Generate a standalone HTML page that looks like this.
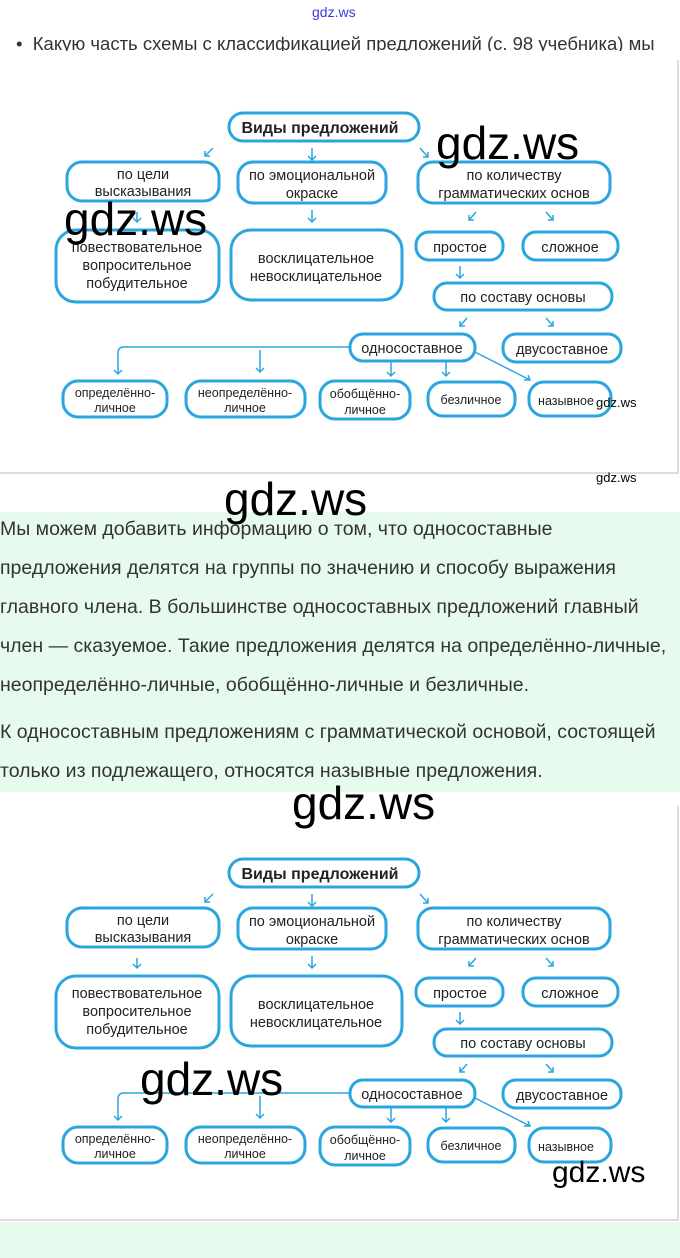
<!DOCTYPE html>
<html><head><meta charset="utf-8"><style>
html,body{margin:0;padding:0;background:#fff;}
body{width:680px;height:1258px;position:relative;overflow:hidden;font-family:"Liberation Sans","DejaVu Sans",sans-serif;}
.wm{position:absolute;font-family:"Liberation Sans","DejaVu Sans",sans-serif;color:#000;line-height:1;}
.txt{position:absolute;left:0;font-size:19.5px;color:#333;white-space:nowrap;}
</style></head><body>
<div style="position:absolute;left:312px;top:4px;font-size:14px;color:#3a3ad8;">gdz.ws</div>
<div style="position:absolute;left:0;top:30px;width:680px;height:21px;overflow:hidden;">
<div style="position:absolute;left:16px;top:3px;font-size:18.5px;color:#333;white-space:nowrap;">•&nbsp; Какую часть схемы с классификацией предложений (с. 98 учебника) мы</div></div>
<div style="position:absolute;left:0;top:60px;width:677px;height:412px;border-right:2px solid #ddd;border-bottom:2px solid #ddd;"></div>
<div style="position:absolute;left:0;top:512px;width:680px;height:280px;background:#e6fbee;"></div>
<div style="position:absolute;left:0;top:806px;width:677px;height:413px;border-right:2px solid #ddd;border-bottom:2px solid #ddd;"></div>
<div style="position:absolute;left:0;top:1222px;width:680px;height:36px;background:#e6fbee;"></div>

<div class="txt" style="top:518px;">Мы можем добавить информацию о том, что односоставные</div>
<div class="txt" style="top:557px;">предложения делятся на группы по значению и способу выражения</div>
<div class="txt" style="top:596px;">главного члена. В большинстве односоставных предложений главный</div>
<div class="txt" style="top:635px;">член — сказуемое. Такие предложения делятся на определённо-личные,</div>
<div class="txt" style="top:674px;">неопределённо-личные, обобщённо-личные и безличные.</div>
<div class="txt" style="top:721px;">К односоставным предложениям с грамматической основой, состоящей</div>
<div class="txt" style="top:760px;">только из подлежащего, относятся назывные предложения.</div>

<svg width="680" height="1258" style="position:absolute;left:0;top:0;" xmlns="http://www.w3.org/2000/svg">
<defs>
<g id="d" font-family="Liberation Sans, DejaVu Sans, sans-serif" font-size="14.5" fill="#222" text-anchor="middle">
<g fill="none" stroke="#2aa6de" stroke-width="3">
<rect x="229" y="113" width="190" height="28" rx="14"/>
<rect x="67" y="162" width="152" height="39" rx="15"/>
<rect x="238" y="162" width="148" height="41" rx="15"/>
<rect x="418" y="162" width="192" height="41" rx="15"/>
<rect x="56" y="230" width="163" height="72" rx="20"/>
<rect x="231" y="230" width="171" height="70" rx="20"/>
<rect x="416" y="232" width="87" height="28" rx="13"/>
<rect x="523" y="232" width="95" height="28" rx="13"/>
<rect x="434" y="283" width="178" height="27" rx="13"/>
<rect x="350" y="334" width="125" height="27" rx="13"/>
<rect x="503" y="334" width="118" height="28" rx="13"/>
<rect x="63" y="381" width="104" height="36" rx="15"/>
<rect x="186" y="381" width="119" height="36" rx="15"/>
<rect x="320" y="381" width="90" height="38" rx="15"/>
<rect x="428" y="382" width="87" height="34" rx="15"/>
<rect x="529" y="382" width="82" height="34" rx="15"/>
</g>
<g fill="none" stroke="#2aa6de" stroke-width="1.5">
<path d="M213 148 L205 156 M205 151 L205 156 L210 156"/>
<path d="M312 148 L312 160 M308 156 L312 160 L316 156"/>
<path d="M420 148 L428 157 M423 157 L428 157 L428 152"/>
<path d="M137 212 L137 222 M133 218 L137 222 L141 218"/>
<path d="M312 210 L312 222 M308 218 L312 222 L316 218"/>
<path d="M476 212 L469 220 M469 215 L469 220 L474 220"/>
<path d="M546 212 L553 220 M548 220 L553 220 L553 215"/>
<path d="M460 266 L460 278 M456 274 L460 278 L464 274"/>
<path d="M467 318 L460 326 M460 321 L460 326 L465 326"/>
<path d="M546 318 L553 326 M548 326 L553 326 L553 321"/>
<path d="M350 347 L124 347 Q118 347 118 353 L118 374 M114 370 L118 374 L122 370"/>
<path d="M260 350 L260 372 M256 368 L260 372 L264 368"/>
<path d="M391 362 L391 376 M387 372 L391 376 L395 372"/>
<path d="M446 362 L446 376 M442 372 L446 376 L450 372"/>
<path d="M475 352 L530 380 M524 380 L530 380 L528 375"/>
</g>
<text x="320" y="133" font-weight="bold" font-size="16">Виды предложений</text>
<text x="143" y="179">по цели</text><text x="143" y="196">высказывания</text>
<text x="312" y="180">по эмоциональной</text><text x="312" y="198">окраске</text>
<text x="514" y="180">по количеству</text><text x="514" y="198">грамматических основ</text>
<text x="137" y="252">повествовательное</text><text x="137" y="270">вопросительное</text><text x="137" y="288">побудительное</text>
<text x="316" y="263">восклицательное</text><text x="316" y="281">невосклицательное</text>
<text x="460" y="252">простое</text>
<text x="570" y="252">сложное</text>
<text x="523" y="302">по составу основы</text>
<text x="412" y="353">односоставное</text>
<text x="562" y="354">двусоставное</text>
<g font-size="12.5"><text x="115" y="397">определённо-</text><text x="115" y="412">личное</text>
<text x="245" y="397">неопределённо-</text><text x="245" y="412">личное</text>
<text x="365" y="398">обобщённо-</text><text x="365" y="414">личное</text>
<text x="471" y="404">безличное</text>
<text x="566" y="405">назывное</text></g>
</g>
</defs>
<use href="#d"/>
<use href="#d" transform="translate(0,746)"/>
</svg>

<div class="wm" style="left:436px;top:120px;font-size:46px;">gdz.ws</div>
<div class="wm" style="left:64px;top:196px;font-size:46px;">gdz.ws</div>
<div class="wm" style="left:596px;top:396px;font-size:13px;">gdz.ws</div>
<div class="wm" style="left:596px;top:471px;font-size:13px;">gdz.ws</div>
<div class="wm" style="left:224px;top:476px;font-size:46px;">gdz.ws</div>
<div class="wm" style="left:292px;top:780px;font-size:46px;">gdz.ws</div>
<div class="wm" style="left:140px;top:1056px;font-size:46px;">gdz.ws</div>
<div class="wm" style="left:552px;top:1158px;font-size:30px;">gdz.ws</div>
</body></html>
